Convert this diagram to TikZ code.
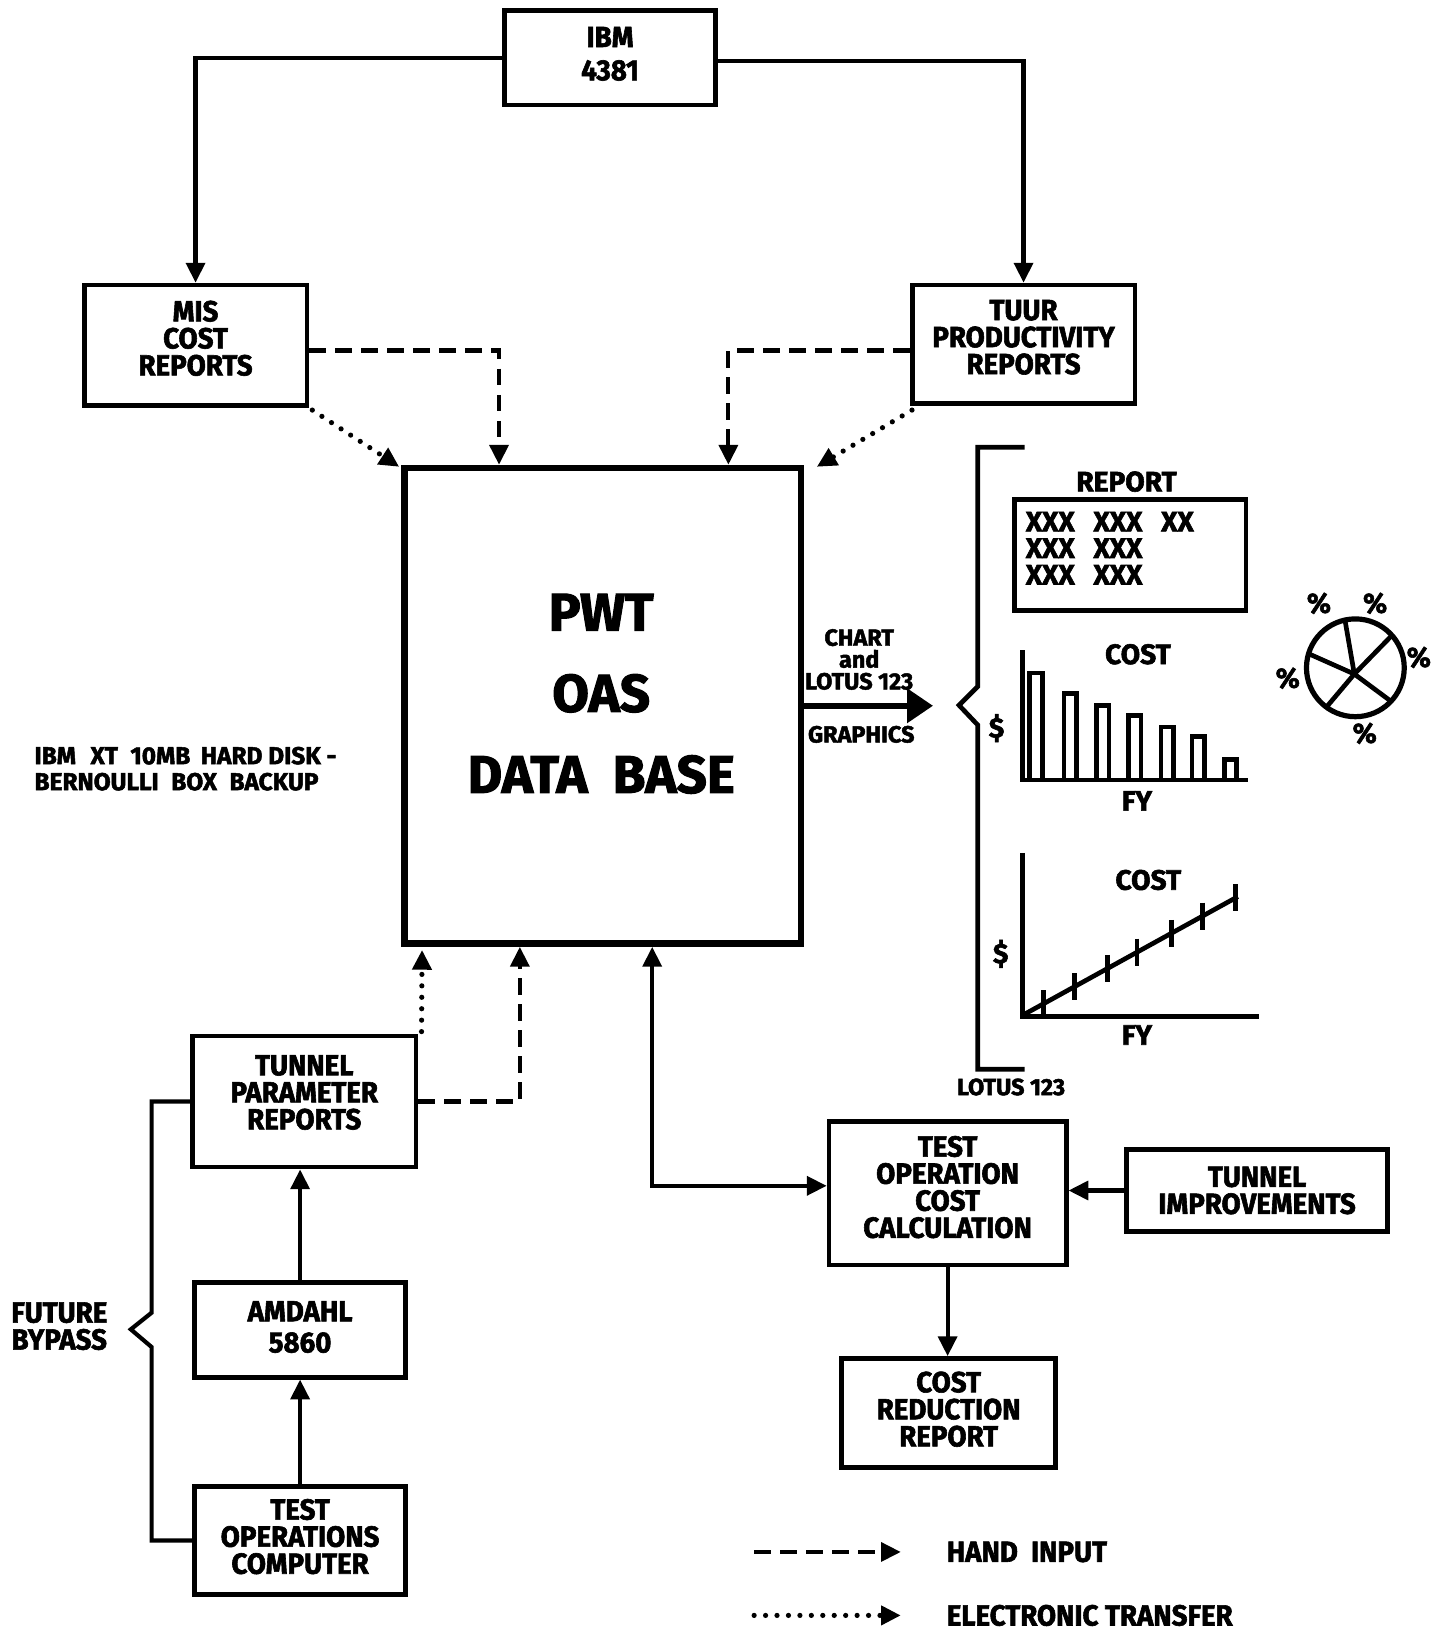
\documentclass[tikz,border=0pt]{standalone}
\usepackage{fontspec}
\setmainfont{Fira Sans}[FakeStretch=0.95, BoldFeatures={FakeBold=2}]
\newfontfamily\widefont{Fira Sans}[BoldFeatures={FakeBold=2}]
\usetikzlibrary{arrows.meta}
\newcommand\bxfont{\fontsize{28}{26}\selectfont\bfseries}
\newcommand\smfont{\widefont\fontsize{22.5}{21}\selectfont\bfseries}
\newcommand\chfont{\widefont\fontsize{27}{26}\selectfont\bfseries}
\newcommand\up[1]{\\[#1]\mbox{}}
\begin{document}
\begin{tikzpicture}[x=1pt,y=-1pt,
  box/.style={draw, line width=4.5pt, align=center, inner sep=0pt, font=\bxfont},
  conn/.style={line width=4pt, -{Triangle[length=19pt,width=18pt]}},
  hand/.style={line width=4pt, dash pattern=on 16pt off 9pt, -{Triangle[length=19pt,width=18pt]}},
  elec/.style={line width=5pt, line cap=round, dash pattern=on 0pt off 11pt, -{Triangle[length=19pt,width=18pt]}},
  chartline/.style={line width=4.5pt}
]
\useasboundingbox (0,0) rectangle (1383,1568);
\fill[white] (0,0) rectangle (1383,1568);

% boxes
\node[box, minimum width=203, minimum height=91] (ibm) at (586.5,55.5) {IBM\\[6pt]4381\up{-18pt}};
\node[box, minimum width=214, minimum height=116] (mis) at (188,332) {MIS\\COST\\REPORTS\up{-12pt}};
\node[box, minimum width=214, minimum height=114] (tuur) at (984,331) {TUUR\\PRODUCTIVITY\\REPORTS\up{-12pt}};
\node[draw, line width=6.5pt, minimum width=381, minimum height=457] (pwt) at (579.5,678.5) {};
\node[align=center, inner sep=0pt, font=\widefont\fontsize{51}{78}\selectfont\bfseries] (pwtlabel) at (578,667) {PWT\\OAS\\DATA\ \ BASE};
\node[box, minimum width=215, minimum height=126] (tpr) at (292.5,1059) {TUNNEL\\PARAMETER\\REPORTS\up{-8pt}};
\node[box, minimum width=203, minimum height=91] (amd) at (288.5,1278.5) {AMDAHL\\[4pt]5860\up{-20pt}};
\node[box, minimum width=203, minimum height=104] (toc) at (288.5,1481) {TEST\\OPERATIONS\\COMPUTER\up{-18pt}};
\node[box, minimum width=228, minimum height=138] (tocc) at (911,1147) {TEST\\OPERATION\\COST\\CALCULATION\up{-14pt}};
\node[box, minimum width=251, minimum height=79] (ti) at (1208.5,1144.5) {TUNNEL\\IMPROVEMENTS};
\node[box, minimum width=206, minimum height=105] (crr) at (912,1358.5) {COST\\REDUCTION\\REPORT\up{-18pt}};

% top connectors
\draw[conn] (ibm.west) -| (mis.north);
\draw[conn] ([yshift=-3]ibm.east) -| (tuur.north);
\draw[hand] ([yshift=-5]mis.east) -| ([xshift=94]pwt.north west);
\draw[hand] ([yshift=-6]tuur.west) -| ([xshift=-73]pwt.north east);
\draw[elec] ([xshift=3,yshift=-2]mis.south east) -- ([xshift=-2,yshift=-2]pwt.north west);
\draw[elec] ([xshift=2,yshift=-4]tuur.south west) -- ([xshift=12,yshift=-2]pwt.north east);

% chart arrow
\coordinate (chartin) at (897,678.5);
\draw[line width=6pt, -{Triangle[length=25pt,width=32pt]}] (pwt.east) -- (chartin);
\node[inner sep=0pt, align=center, font=\smfont] (chartlbl) at (826,634) {CHART\\and\\LOTUS 123};
\node[inner sep=0pt, font=\smfont] (graphlbl) at (828,706) {GRAPHICS};

% brace
\draw[chartline] (985,430) -- (940,430) -- (940,660) -- (922,678) -- (940,697) -- (940,1028) -- (985,1028);
\node[inner sep=0pt, font=\smfont] (lotus) at (972,1045) {LOTUS 123};

% report
\node[inner sep=0pt, font=\chfont] (replbl) at (1083,463) {REPORT};
\node[draw, line width=4.5pt, minimum width=223, minimum height=107] (repbox) at (1086.5,533.5) {};
\node[inner sep=0pt, anchor=north west, align=left, font=\widefont\fontsize{27}{25.5}\selectfont\bfseries] (reptext) at (986,492) {XXX\hspace{18pt}XXX\hspace{18pt}XX\\XXX\hspace{18pt}XXX\\XXX\hspace{18pt}XXX};

% bar chart
\node[inner sep=0pt, font=\chfont] (cost1) at (1094,629) {COST};
\draw[chartline] (983,625) -- (983,750) -- (1200,750);
\foreach \a/\b/\t in {990/1002/647, 1023/1035/667, 1054/1066/678, 1085/1097/688, 1116/1128/699, 1146/1158/708, 1177/1189/730}
  \draw[chartline] (\a,750) -- (\a,\t) -- (\b,\t) -- (\b,750);
\node[inner sep=0pt, font=\chfont] (dol1) at (958,700) {\$};
\node[inner sep=0pt, font=\chfont] (fy1) at (1093,770) {FY};

% line chart
\node[inner sep=0pt, font=\chfont] (cost2) at (1104,846) {COST};
\draw[chartline] (983,820) -- (983,977) -- (1210,977);
\draw[chartline] (985,975) -- (1190,862);
\foreach \x in {1003,1033,1065,1093,1126,1156,1188}
  \draw[chartline] (\x,{975-(\x-985)/205*113-13}) -- (\x,{975-(\x-985)/205*113+13});
\node[inner sep=0pt, font=\chfont] (dol2) at (962,917) {\$};
\node[inner sep=0pt, font=\chfont] (fy2) at (1093,995) {FY};

% pie
\draw[line width=5pt] (1303,642) circle[radius=47pt];
\foreach \ex/\ey in {1293/596, 1338/611, 1257/628, 1275/680, 1337/674}
  \draw[chartline] (1302,648) -- (\ex,\ey);
\foreach \px/\py in {1268/580, 1322/580, 1364/632, 1238/652, 1312/705}
  \node[inner sep=0pt, font=\chfont] at (\px,\py) {\%};

% left label
\node[inner sep=0pt, anchor=west, align=left, font=\widefont\fontsize{23.5}{25}\selectfont\bfseries] (xtlbl) at (33,739) {IBM\hspace{14pt}XT\hspace{12pt}10MB\hspace{10pt}HARD DISK -\\BERNOULLI\hspace{12pt}BOX\hspace{12pt}BACKUP};

% bottom left connectors
\draw[hand] (tpr.east) -| ([xshift=114]pwt.south west);
\draw[elec] ([xshift=3,yshift=2]tpr.north east) -- ([xshift=20,yshift=-3]pwt.south west);
\draw[conn] (amd.north) -- (amd.north |- tpr.south);
\draw[conn] (toc.north) -- (amd.south);
\draw[line width=4pt] (toc.west) -- ++(-39,0) -- ++(0,-186) -- ++(-20,-17) -- ++(20,-16) |- (tpr.west);
\node[inner sep=0pt, align=center, font=\bxfont] (bypass) at (57,1275) {FUTURE\\BYPASS};

% bottom right connectors
\draw[line width=4pt, {Triangle[length=19pt,width=18pt]}-{Triangle[length=19pt,width=18pt]}] ([xshift=47.5]pwt.south) |- ([yshift=7]tocc.west);
\draw[conn] (ti.west) -- (ti.west -| tocc.east);
\draw[conn] (tocc.south) -- (tocc.south |- crr.north);

% legend
\coordinate (h1) at (725,1492);
\coordinate (h2) at (866,1492);
\coordinate (e1) at (725,1553);
\coordinate (e2) at (866,1553);
\draw[hand] (h1) -- (h2);
\draw[elec] (e1) -- (e2);
\node[inner sep=0pt, anchor=west, font=\bxfont] (handlbl) at (910,1492) {HAND\ \ INPUT};
\node[inner sep=0pt, anchor=west, font=\bxfont] (eleclbl) at (910,1553) {ELECTRONIC TRANSFER};
\end{tikzpicture}
\end{document}
